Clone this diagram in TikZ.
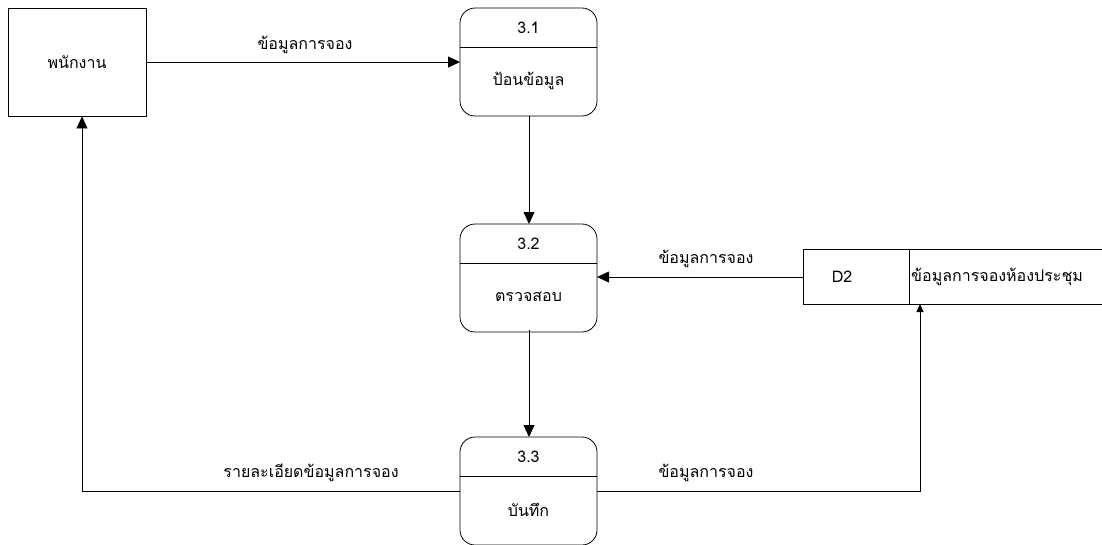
\documentclass[tikz,border=0pt]{standalone}
\usepackage{fontspec}
\newfontfamily\thaifont[Script=Thai]{Loma}
\usetikzlibrary{arrows.meta,calc}
\begin{document}
\begin{tikzpicture}[x=1pt,y=-1pt,
  every node/.style={font=\thaifont\fontsize{16}{18}\selectfont},
  line/.style={draw=black,line width=0.8pt},
  flow/.style={line,-{Triangle[length=12pt,width=11pt]}},
  smallflow/.style={line,-{Triangle[length=8pt,width=7pt]}},
  entity/.style={draw,line width=0.8pt,minimum width=138pt,minimum height=108pt,inner sep=0pt},
  lbl/.style={inner sep=1pt}
]
\useasboundingbox (0,0) rectangle (1102,544);

% external entity
\node[entity] (emp) at (77,62) {พนักงาน};

% processes: rounded box with a header line
\newcommand{\procbox}[4]{%
  \draw[line,rounded corners=15pt] (#1-68.5,#2) rectangle (#1+68.5,#2+108);
  \draw[line] (#1-68.5,#2+39) -- (#1+68.5,#2+39);
  \node at (#1,#2+20) {#3};
  \node at (#1,#2+73) {#4};
}
\procbox{528.5}{8}{3.1}{ป้อนข้อมูล}
\procbox{528.5}{224}{3.2}{ตรวจสอบ}
\procbox{528.5}{437}{3.3}{บันทึก}
\coordinate (p1w) at (460,62);
\coordinate (p1s) at (529,116);
\coordinate (p2n) at (529,224);
\coordinate (p2e) at (597,277);
\coordinate (p2s) at (529,330);
\coordinate (p3n) at (529,437);
\coordinate (p3w) at (460,491);
\coordinate (p3e) at (597,491);

% data store D2
\draw[line] (1102,249) -- (803,249) -- (803,304) -- (1102,304);
\draw[line] (909,249) -- (909,304);
\node (dsid) at (842,277) {D2};
\node[anchor=west,inner sep=2pt] (ds) at (909,277) {ข้อมูลการจองห้องประชุม};
\coordinate (dsw) at (803,277);
\coordinate (dss) at (920,304);

% flows
\draw[flow] (emp.east |- p1w) -- (p1w);
\node[lbl] at (305,45) {ข้อมูลการจอง};

\draw[flow] (p1s) -- (p2n);
\draw[flow] (dsw) -- (p2e);
\node[lbl] at (706,259) {ข้อมูลการจอง};

\draw[flow] (p2s) -- (p3n);

\draw[flow] (p3w) -- (82,491) -- (emp.south -| 82,0);
\node[lbl] at (311,473) {รายละเอียดข้อมูลการจอง};

\draw[smallflow] (p3e) -- (920,491) -- (dss);
\node[lbl] at (706,473) {ข้อมูลการจอง};
\end{tikzpicture}
\end{document}
